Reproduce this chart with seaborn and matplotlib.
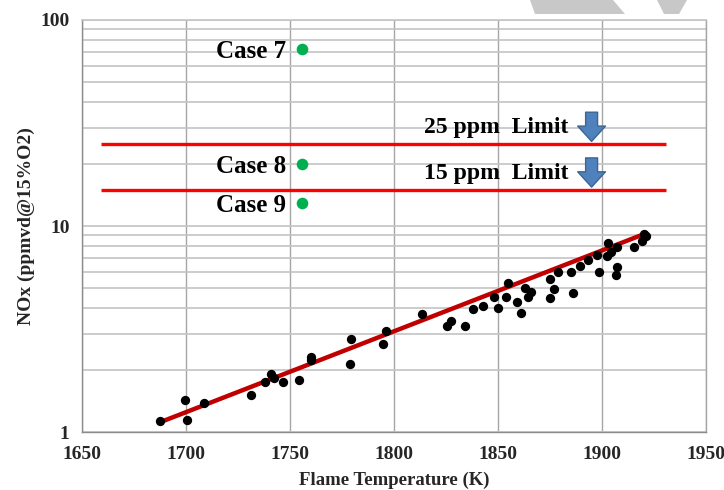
import numpy as np
import pandas as pd
import seaborn as sns
import matplotlib
matplotlib.use("Agg")
import matplotlib.pyplot as plt
from matplotlib.ticker import FixedLocator, NullFormatter, FixedFormatter
from matplotlib.patches import Polygon

# ---------------- data ----------------
temp_k = [1687.7, 1699.3, 1700.3, 1708.5, 1731.3, 1738.0, 1741.0, 1742.4, 1746.8,
          1754.5, 1760.3, 1760.3, 1778.7, 1779.2, 1794.7, 1796.1, 1813.5,
          1825.6, 1827.2, 1834.2, 1838.2, 1842.9, 1848.2, 1849.8, 1853.8, 1854.8,
          1859.0, 1860.9, 1863.0, 1864.2, 1865.9, 1874.8, 1874.8, 1876.9, 1879.0,
          1885.3, 1886.1, 1889.3, 1893.5, 1897.4, 1898.7, 1902.2, 1902.7, 1904.1,
          1907.0, 1906.7, 1907.4, 1915.5, 1919.1, 1920.0, 1921.3]
nox_ppm = [1.13, 1.43, 1.14, 1.38, 1.51, 1.75, 1.91, 1.83, 1.75,
           1.79, 2.31, 2.24, 2.14, 2.83, 2.67, 3.09, 3.74,
           3.27, 3.47, 3.27, 3.94, 4.09, 4.51, 3.99, 4.54, 5.27,
           4.29, 3.77, 5.02, 4.54, 4.78, 5.51, 4.49, 4.95, 5.96,
           5.96, 4.71, 6.42, 6.82, 7.23, 5.98, 7.15, 8.24, 7.45,
           6.35, 5.78, 7.93, 7.93, 8.46, 9.15, 8.97]

# exponential trend line (end points)
trend_temp = [1688, 1921]
trend_nox = [1.12, 9.2]

case_labels = ["Case 7", "Case 8", "Case 9"]
case_temp = [1756, 1756, 1756]
case_nox = [72, 20, 13]

limit_labels = ["25 ppm  Limit", "15 ppm  Limit"]
limit_values = [25, 15]
limit_range = [1659, 1931]
limit_label_temp = 1884
limit_arrow_temp = 1895

x_ticks = [1650, 1700, 1750, 1800, 1850, 1900, 1950]
y_ticks = [1, 10, 100]
y_tick_labels = ["1", "10", "100"]

df = pd.DataFrame({"T": temp_k, "NOx": nox_ppm})
cases = pd.DataFrame({"T": case_temp, "NOx": case_nox, "label": case_labels})
fit = pd.DataFrame({"T": trend_temp, "NOx": trend_nox})

# ---------------- style ----------------
sns.set_style("white")
plt.rcParams["font.family"] = ["Liberation Serif", "DejaVu Serif"]
plt.rcParams["font.weight"] = "bold"

fig = plt.figure(figsize=(7.24, 4.90), dpi=100)
ax = fig.add_axes([82 / 724, 1 - 432 / 490, (706 - 82) / 724, (432 - 20) / 490])

ax.set_yscale("log")
ax.set_xlim(1650, 1950)
ax.set_ylim(1, 100)

# grid
ax.xaxis.set_major_locator(FixedLocator(x_ticks))
ax.yaxis.set_major_locator(FixedLocator(y_ticks))
ax.yaxis.set_major_formatter(FixedFormatter(y_tick_labels))
minor_y = [m * 10 ** d for d in range(0, 2) for m in range(2, 10)]
ax.yaxis.set_minor_locator(FixedLocator(minor_y))
ax.yaxis.set_minor_formatter(NullFormatter())
ax.grid(True, axis="x", which="major", color="#a6a6a6", lw=1.0, zorder=0)
ax.grid(True, axis="y", which="both", color="#c4c4c4", lw=1.2, zorder=0)
ax.set_axisbelow(True)

ax.spines["top"].set_color("#c4c4c4")
ax.spines["top"].set_linewidth(1.2)
ax.spines["right"].set_color("#a6a6a6")
ax.spines["right"].set_linewidth(1.0)
for s in ["left", "bottom"]:
    ax.spines[s].set_color("#8c8c8c")
    ax.spines[s].set_linewidth(1.0)
ax.tick_params(axis="both", which="major", direction="out", length=5, width=1,
               color="#8c8c8c", labelsize=14, pad=4)
ax.tick_params(axis="y", which="minor", length=0)
ax.tick_params(axis="x", pad=5)
for lbl in ax.get_xticklabels() + ax.get_yticklabels():
    lbl.set_fontweight("bold")

# limit lines
for v in limit_values:
    ax.plot(limit_range, [v, v], color="#ff0000", lw=2.4, zorder=3, solid_capstyle="butt")

# trend line
sns.lineplot(data=fit, x="T", y="NOx", ax=ax, color="#c00000", lw=3.2, zorder=4,
             legend=False)

# data points
sns.scatterplot(data=df, x="T", y="NOx", ax=ax, color="black", s=45,
                edgecolor="black", linewidth=0, zorder=5, legend=False)

# cases
sns.scatterplot(data=cases, x="T", y="NOx", ax=ax, color="#00b050", s=70,
                linewidth=0, zorder=5, legend=False)
for _, r in cases.iterrows():
    ax.annotate(r["label"], xy=(r["T"], r["NOx"]), xytext=(-12, 0),
                textcoords="offset points", ha="right", va="center_baseline",
                fontsize=18, fontweight="bold", color="black", zorder=6)

# limit labels and arrows
for v, lab in zip(limit_values, limit_labels):
    ax.annotate(lab, xy=(limit_label_temp, v), xytext=(0, 8),
                textcoords="offset points", ha="right", va="baseline",
                fontsize=17, fontweight="bold", color="black", zorder=6)
    ax.annotate("", xy=(limit_arrow_temp, v * 1.03), xytext=(0, 21),
                textcoords="offset points",
                arrowprops=dict(arrowstyle="simple,head_length=11,head_width=20,tail_width=8.6",
                                mutation_scale=1, fc="#4f81bd", ec="#3a6595", lw=1.0,
                                shrinkA=0, shrinkB=0),
                zorder=6)

ax.set_xlabel("Flame Temperature (K)", fontsize=13.5, fontweight="bold", labelpad=6)
ax.set_ylabel("NOx (ppmvd@15%O2)", fontsize=14, fontweight="bold", labelpad=4)

# light grey decorative shapes at the top edge (from the reference image)
for pts in ([(530, 0), (613, 0), (625, 14), (535, 14)],
            [(657, 0), (687, 0), (679, 14), (664, 14)]):
    fig.add_artist(Polygon([(x / 724, 1 - y / 490) for x, y in pts], closed=True,
                           transform=fig.transFigure, fc="#c8c8c8", ec="none"))

fig.savefig("out.png", dpi=100)
